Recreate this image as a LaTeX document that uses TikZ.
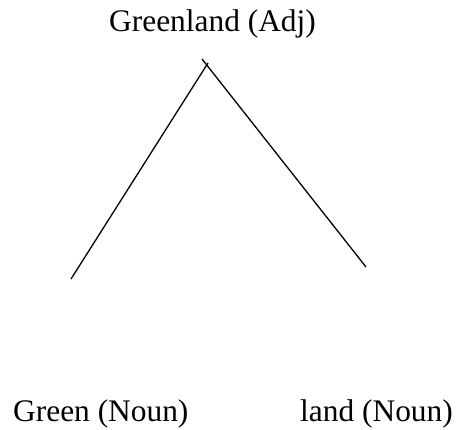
\documentclass[tikz,border=0pt]{standalone}
\usepackage{fontspec}
\setmainfont{Liberation Serif}
\begin{document}
\begin{tikzpicture}[x=1pt,y=-1pt,
  lbl/.style={inner sep=0pt,anchor=base west,font=\fontsize{31.4}{36}\selectfont},
  branch/.style={line width=1.3pt,black}]
\useasboundingbox (0,0) rectangle (457,430);
\node[lbl] (top) at (109,32) {Greenland (Adj)};
\node[lbl] (green) at (13,421) {Green (Noun)};
\node[lbl] (land) at (300,421) {land (Noun)};
\coordinate (la) at (208,63);
\coordinate (lb) at (71,279);
\coordinate (ra) at (202,59);
\coordinate (rb) at (366,267);
\draw[branch] (la) -- (lb);
\draw[branch] (ra) -- (rb);
\end{tikzpicture}
\end{document}
